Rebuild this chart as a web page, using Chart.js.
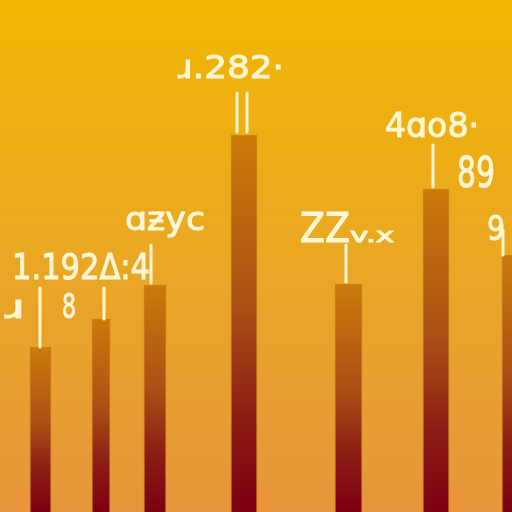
<!DOCTYPE html>
<html>
<head>
<meta charset="utf-8">
<script src="https://cdn.jsdelivr.net/npm/chart.js@4/dist/chart.umd.min.js"></script>
<style>
  html, body { margin: 0; padding: 0; background: #eca820; }
  #chart { display: block; }
</style>
</head>
<body>
<canvas id="chart" width="512" height="512"></canvas>
<script>
// data (y in pixel-like units, 0..512)
const barSlots = [40.5, 101, 155, 244, 348.5, 436, 513];
const barValues = [165, 193, 227, 377, 228, 323, 257];
const labelTexts = ['1.192Δ:4', 'ɹ', '8', 'ɑƶyc', 'ɹ.282·', 'ZZ', 'v.x', '4ɑo8·', '89', '9'];

// label layout: [bar, dx from bar centre, dy from bar top, width, font size]
const labelLayout = [
    [0, -28.5, -68, 138, 35],
    [0, -35.5, -29, 20, 32],
    [0, 21.5, -29, 14, 34],
    [2, -30, -55, 80, 32],
    [3, -66, -57, 106, 32],
    [4, -48.5, -42, 50, 40],
    [4, 1.5, -42, 44, 20],
    [5, -51, -52, 94, 34],
    [5, 21, -2, 38, 42],
    [6, -26, -15, 18, 34]
];
// tick lines above bars: [bar, dx, from dy, to dy]
const tickLines = [
    [0, -0.5, -59, 0],
    [1, 3, -31, 0],
    [2, -4, -40, -2],
    [3, -7, -42, -3],
    [3, 3, -42, -3],
    [4, -2.5, -39, -2],
    [5, -3, -44, -2],
    [6, -10, -25, 0]
];
const barWidths = [21, 18, 22, 26, 27, 26, 22];

const bgPlugin = {
    id: 'bg',
    beforeDraw(chart) {
        const ctx = chart.ctx;
        const g = ctx.createLinearGradient(0, 0, 0, chart.height);
        g.addColorStop(0, '#f0b602');
        g.addColorStop(0.5, '#eaa824');
        g.addColorStop(1, '#e6953a');
        ctx.save();
        ctx.fillStyle = g;
        ctx.fillRect(0, 0, chart.width, chart.height);
        ctx.restore();
    }
};

const notesPlugin = {
    id: 'notes',
    afterDatasetsDraw(chart) {
        const ctx = chart.ctx;
        const xs = chart.scales.x, ys = chart.scales.y;
        ctx.save();
        ctx.strokeStyle = '#fff5cf';
        ctx.lineWidth = 3;
        ctx.lineCap = 'round';
        tickLines.forEach(t => {
            const cx = xs.getPixelForValue(barSlots[t[0]]) + t[1];
            const top = ys.getPixelForValue(barValues[t[0]]);
            ctx.beginPath();
            ctx.moveTo(cx, top + t[2]);
            ctx.lineTo(cx, top + t[3]);
            ctx.stroke();
        });
        ctx.fillStyle = '#fff6d4';
        ctx.strokeStyle = '#fff6d4';
        ctx.lineWidth = 1;
        ctx.textBaseline = 'alphabetic';
        labelLayout.forEach((l, i) => {
            const cx = xs.getPixelForValue(barSlots[l[0]]) + l[1];
            const top = ys.getPixelForValue(barValues[l[0]]);
            ctx.font = l[4] + 'px "DejaVu Sans"';
            const w = ctx.measureText(labelTexts[i]).width;
            ctx.save();
            ctx.translate(cx, top + l[2]);
            ctx.scale(l[3] / w, 1);
            ctx.fillText(labelTexts[i], 0, 0);
            ctx.strokeText(labelTexts[i], 0, 0);
            ctx.restore();
        });
        ctx.restore();
    }
};

function barGradient(context) {
    const chart = context.chart;
    const area = chart.chartArea;
    if (!area) return '#b05018';
    const v = barValues[context.datasetIndex];
    const top = chart.scales.y.getPixelForValue(v);
    const g = chart.ctx.createLinearGradient(0, top, 0, area.bottom);
    g.addColorStop(0, '#cc7a0a');
    g.addColorStop(0.45, '#ad5016');
    g.addColorStop(0.75, '#8c1c14');
    g.addColorStop(1, '#7c0012');
    return g;
}

const datasets = barValues.map((v, i) => ({
    data: [{ x: barSlots[i], y: v }],
    backgroundColor: barGradient,
    borderColor: 'rgba(150,60,10,0.35)',
    borderWidth: 1,
    barThickness: barWidths[i],
    grouped: false
}));

new Chart(document.getElementById('chart'), {
    type: 'bar',
    data: { datasets: datasets },
    options: {
        responsive: false,
        devicePixelRatio: 1,
        animation: false,
        layout: { padding: 0 },
        plugins: {
            legend: { display: false },
            tooltip: { enabled: false }
        },
        scales: {
            x: { type: 'linear', min: 0, max: 512, offset: false, display: false },
            y: { min: 0, max: 512, display: false }
        }
    },
    plugins: [bgPlugin, notesPlugin]
});
</script>
</body>
</html>
